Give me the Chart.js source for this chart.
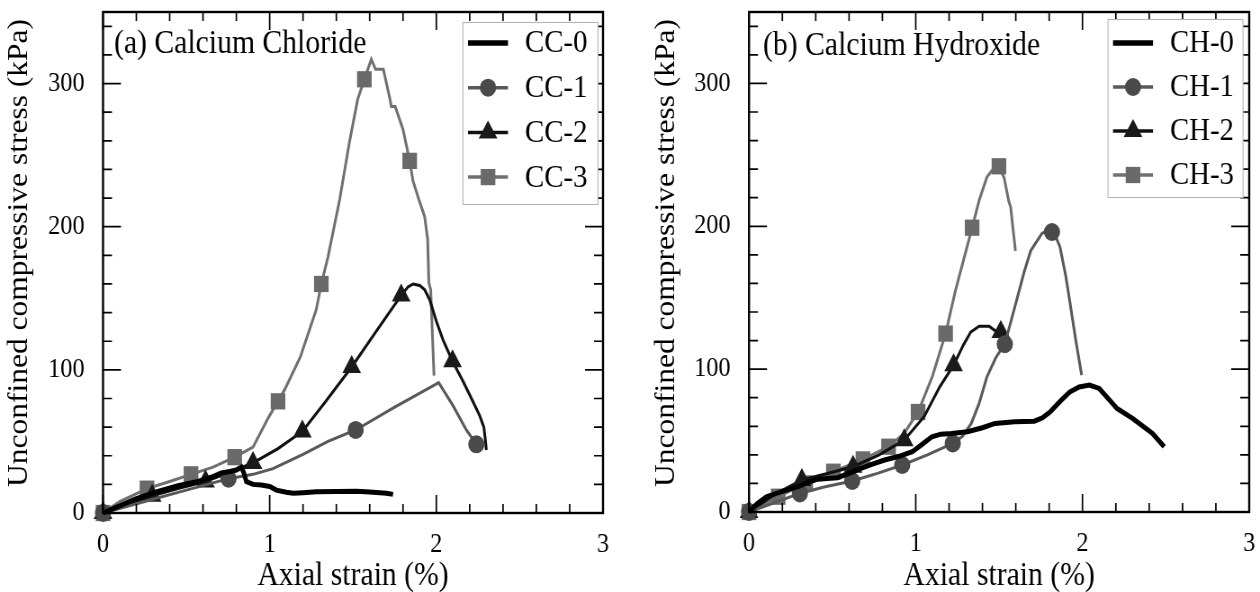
<!DOCTYPE html>
<html>
<head>
<meta charset="utf-8">
<script src="https://cdn.jsdelivr.net/npm/chart.js@4.4.1/dist/chart.umd.min.js"></script>
<style>
  html, body { margin: 0; padding: 0; background: #fff; }
  .panel { position: absolute; top: 0; width: 630px; height: 592px; }
  .panel canvas { width: 630px; height: 592px; }
</style>
</head>
<body>
<!-- the source figure is slightly squeezed sideways, so each canvas is drawn wider and shown at 630px -->
<div class="panel" style="left:0"><canvas id="chartCC" width="700" height="592" style="width:630px;height:592px"></canvas></div>
<div class="panel" style="left:630px"><canvas id="chartCH" width="700" height="592" style="width:630px;height:592px"></canvas></div>
<script>
// axis ticks
const strainTicks = [0, 1, 2, 3];
const stressTicks = [0, 100, 200, 300];

// (a) Calcium Chloride: [axial strain %, stress kPa]
const cc0 = [[0,0],[0.1,5],[0.2,10],[0.33,15],[0.45,19],[0.57,22],[0.65,25],[0.71,28],[0.76,29],[0.8,30],
  [0.83,32],[0.845,28],[0.86,22],[0.9,20],[0.95,19.5],[1.0,18.5],[1.04,16],[1.1,14.5],[1.14,13.8],
  [1.2,14.2],[1.28,14.8],[1.4,15],[1.52,15.2],[1.6,14.6],[1.7,13.8],[1.74,13]];
const cc1 = [[0,0],[0.25,8],[0.5,16],[0.753,24],[0.9,27],[1.02,31],[1.2,41],[1.35,50],[1.516,58],
  [1.75,74],[2.014,91],[2.1,75],[2.18,58],[2.24,48]];
const cc1Marks = [[0,0],[0.753,24],[1.516,58],[2.24,48]];
const cc2 = [[0,0],[0.15,6],[0.295,12],[0.45,17],[0.615,22],[0.75,28],[0.9,35],[1.05,45],[1.196,57],
  [1.33,77],[1.492,102],[1.64,127],[1.789,152],[1.83,158],[1.86,160],[1.9,159],[1.93,156],[1.96,149],
  [2.0,134],[2.04,121],[2.097,106],[2.16,92],[2.215,79],[2.26,68],[2.285,60],[2.295,50],[2.3,44]];
const cc2Marks = [[0,0],[0.295,12],[0.615,22],[0.9,35],[1.196,57],[1.492,102],[1.789,152],[2.097,106]];
const cc3 = [[0,0],[0.1,8],[0.264,17],[0.4,22],[0.528,27],[0.66,32],[0.79,39],[0.9,46],[0.994,67],
  [1.05,78],[1.089,86],[1.184,109],[1.279,142],[1.31,160],[1.35,179],[1.42,219],[1.48,260],[1.528,289],
  [1.568,303],[1.61,317],[1.635,310],[1.682,310],[1.72,290],[1.73,284],[1.753,284],[1.8,268],[1.84,246],
  [1.86,232],[1.895,219],[1.93,207],[1.948,191],[1.955,161],[1.966,156],[1.986,96]];
const cc3Marks = [[0,0],[0.264,17],[0.528,27],[0.79,39],[1.05,78],[1.31,160],[1.568,303],[1.84,246]];

// (b) Calcium Hydroxide
const ch0 = [[0,0],[0.05,6],[0.105,10.7],[0.2,14.5],[0.293,17.7],[0.35,20.5],[0.412,23],[0.47,23.5],
  [0.53,24],[0.6,27],[0.671,30.5],[0.74,33.5],[0.813,36.4],[0.9,39],[0.979,42.2],[1.04,47.5],[1.097,52.7],
  [1.15,54.5],[1.215,55],[1.31,56.2],[1.4,59],[1.475,62],[1.593,63.2],[1.711,63.6],[1.76,66],[1.805,70],
  [1.87,78],[1.923,84],[1.98,87.5],[2.042,88.8],[2.1,86.5],[2.15,80],[2.207,72.5],[2.3,65.5],[2.42,55],[2.49,45.7]];
const ch1 = [[0,0],[0.15,6.5],[0.305,13],[0.45,17.5],[0.619,21.7],[0.77,27],[0.919,32.9],[1.07,40],
  [1.222,48],[1.28,53],[1.333,62],[1.38,76],[1.427,94.6],[1.48,108],[1.534,117.5],[1.6,146],[1.65,168],
  [1.69,183],[1.757,195],[1.8,197.6],[1.83,195.5],[1.865,185.5],[1.9,165],[1.923,148],[1.96,120],[1.995,95.8]];
const ch1Marks = [[0,0],[0.305,13],[0.619,21.7],[0.919,32.9],[1.222,48],[1.534,117.5],[1.817,196]];
const ch2 = [[0,0],[0.15,12],[0.317,22.4],[0.47,27],[0.624,31.7],[0.78,40],[0.931,50.3],[1.05,66.7],
  [1.144,87.6],[1.227,102.8],[1.285,116.8],[1.33,126],[1.38,130],[1.44,130],[1.487,126],[1.52,125],[1.56,118]];
const ch2Marks = [[0,0],[0.317,22.4],[0.624,31.7],[0.931,50.3],[1.227,102.8],[1.51,126]];
const ch3 = [[0,0],[0.175,10.7],[0.34,20],[0.506,28.2],[0.683,36.8],[0.837,45.7],[0.93,55],[1.014,70],
  [1.1,95],[1.179,124.9],[1.238,155],[1.338,199],[1.38,218],[1.427,234.5],[1.47,241],[1.499,242],
  [1.53,234],[1.557,218],[1.569,213.5],[1.598,182.7]];
const ch3Marks = [[0,0],[0.175,10.7],[0.34,20],[0.506,28.2],[0.683,36.8],[0.837,45.7],[1.014,70],
  [1.179,124.9],[1.338,199],[1.499,242]];

const FONT = '"Liberation Serif", "DejaVu Serif", serif';
const SX = 0.9;               // horizontal squeeze of the original figure
const hx = v => v / SX;       // screen px -> canvas px (horizontal only)

// style per curve: line colour, width, marker
const STYLES = [
  { line: '#000000', width: 5, marker: null },
  { line: '#595959', width: 3, marker: 'circle', fill: '#4a4a4a', radius: 9 },
  { line: '#111111', width: 3, marker: 'triangle', fill: '#1a1a1a', radius: 12 },
  { line: '#707070', width: 3, marker: 'rect', fill: '#6a6a6a', radius: 11.5 }
];

const toXY = pts => pts.map(p => ({ x: p[0], y: p[1] }));

// draws inward ticks, frame, y title, panel note and legend box
const framePlugin = {
  id: 'framePlugin',
  afterDraw(chart, args, opts) {
    const { ctx, chartArea: a, scales: { x, y } } = chart;
    ctx.save();
    ctx.strokeStyle = '#000';
    ctx.lineWidth = 1.7;
    ctx.beginPath();
    for (let i = 0; i <= 15; i++) {
      const px = x.getPixelForValue(i * 0.2);
      const len = i % 5 === 0 ? 18 : 9;
      ctx.moveTo(px, a.bottom); ctx.lineTo(px, a.bottom - len);
      ctx.moveTo(px, a.top); ctx.lineTo(px, a.top + len);
    }
    for (let i = 0; i <= 17; i++) {
      const py = y.getPixelForValue(i * 20);
      const len = hx(i % 5 === 0 ? 18 : 9);
      ctx.moveTo(a.left, py); ctx.lineTo(a.left + len, py);
      ctx.moveTo(a.right, py); ctx.lineTo(a.right - len, py);
    }
    ctx.stroke();
    ctx.lineWidth = 2.4;
    ctx.strokeRect(a.left, a.top, a.right - a.left, a.bottom - a.top);

    ctx.fillStyle = '#000';
    ctx.textBaseline = 'middle';

    // y axis title
    ctx.save();
    ctx.translate(hx(opts.yTitleX), 253);
    ctx.rotate(-Math.PI / 2);
    ctx.textAlign = 'center';
    ctx.font = '31.5px ' + FONT;
    ctx.fillText('Unconfined compressive stress (kPa)', 0, 0);
    ctx.restore();

    // panel caption
    ctx.font = '33px ' + FONT;
    ctx.textAlign = 'left';
    ctx.fillText(opts.note, hx(opts.noteX), opts.noteY);

    // legend
    const L = opts.legend;
    const lx = hx(L.x);
    ctx.fillStyle = '#fff';
    ctx.fillRect(lx, L.y, hx(L.w), L.h);
    ctx.strokeStyle = '#b4b4b4';
    ctx.lineWidth = 1.1;
    ctx.strokeRect(lx, L.y + 0.5, hx(L.w), L.h);
    opts.names.forEach((name, i) => {
      const st = STYLES[i];
      const ry = L.y + L.row0 + i * L.step;
      ctx.strokeStyle = st.line;
      ctx.lineWidth = i === 0 ? 5.5 : 3.5;
      ctx.beginPath();
      ctx.moveTo(lx + hx(5), ry);
      ctx.lineTo(lx + hx(45), ry);
      ctx.stroke();
      if (st.marker) {
        ctx.fillStyle = st.fill;
        ctx.strokeStyle = st.fill;
        Chart.helpers.drawPoint(ctx, { pointStyle: st.marker, radius: st.radius, borderWidth: 0, rotation: 0 }, lx + hx(25), ry);
      }
      ctx.fillStyle = '#000';
      ctx.font = '32px ' + FONT;
      ctx.fillText(name, lx + hx(62), ry + 1);
    });
    ctx.restore();
  }
};

function buildChart(canvasId, cfg) {
  const datasets = [];
  cfg.curves.forEach((curve, i) => {
    const st = STYLES[i];
    datasets.push({
      type: 'line', label: cfg.names[i], data: toXY(curve),
      borderColor: st.line, borderWidth: st.width, pointRadius: 0,
      tension: 0, fill: false, clip: false, order: i === 0 ? 0 : i * 2 + 1
    });
    if (cfg.marks[i]) {
      datasets.push({
        type: 'scatter', label: cfg.names[i] + ' marks', data: toXY(cfg.marks[i]),
        pointStyle: st.marker, pointRadius: st.radius, backgroundColor: st.fill,
        borderColor: st.fill, borderWidth: 0, showLine: false, clip: false, order: i * 2
      });
    }
  });

  return new Chart(document.getElementById(canvasId), {
    type: 'line',
    data: { datasets },
    options: {
      responsive: false,
      animation: false,
      events: [],
      layout: { padding: { left: 0, right: hx(cfg.padRight), top: cfg.padTop, bottom: 0 } },
      scales: {
        x: {
          type: 'linear', min: 0, max: 3,
          afterFit: s => { s.height = cfg.xHeight; s.paddingLeft = 0; s.paddingRight = 0; },
          afterBuildTicks: s => { s.ticks = strainTicks.map(v => ({ value: v })); },
          grid: { display: false, drawTicks: false },
          border: { display: false },
          ticks: { padding: 16, color: '#000', maxRotation: 0, font: { family: FONT, size: 27 } },
          title: {
            display: true, text: 'Axial strain (%)', color: '#000',
            font: { family: FONT, size: 33, lineHeight: 1 }, padding: { top: 0, bottom: -1 }
          }
        },
        y: {
          type: 'linear', min: 0, max: 350,
          afterFit: s => { s.width = hx(cfg.yWidth); s.paddingTop = 0; s.paddingBottom = 0; },
          afterBuildTicks: s => { s.ticks = stressTicks.map(v => ({ value: v })); },
          grid: { display: false, drawTicks: false },
          border: { display: false },
          ticks: { padding: hx(18.5), color: '#000', font: { family: FONT, size: 27 } },
          title: { display: false }
        }
      },
      plugins: {
        legend: { display: false },
        tooltip: { enabled: false },
        framePlugin: {
          note: cfg.note, noteX: cfg.noteX, noteY: cfg.noteY, yTitleX: cfg.yTitleX,
          names: cfg.names, legend: cfg.legend
        }
      }
    },
    plugins: [framePlugin]
  });
}

buildChart('chartCC', {
  names: ['CC-0', 'CC-1', 'CC-2', 'CC-3'],
  curves: [cc0, cc1, cc2, cc3],
  marks: [null, cc1Marks, cc2Marks, cc3Marks],
  padRight: 27, padTop: 12, xHeight: 79, yWidth: 103, yTitleX: 20,
  note: '(a) Calcium Chloride', noteX: 114, noteY: 44,
  legend: { x: 463, y: 22, w: 135, h: 182, row0: 21, step: 44.7 }
});

buildChart('chartCH', {
  names: ['CH-0', 'CH-1', 'CH-2', 'CH-3'],
  curves: [ch0, ch1, ch2, ch3],
  marks: [null, ch1Marks, ch2Marks, ch3Marks],
  padRight: 9, padTop: 11, xHeight: 80, yWidth: 119, yTitleX: 37,
  note: '(b) Calcium Hydroxide', noteX: 133, noteY: 46,
  legend: { x: 478, y: 19, w: 135, h: 178, row0: 24, step: 44 }
});
</script>
</body>
</html>
